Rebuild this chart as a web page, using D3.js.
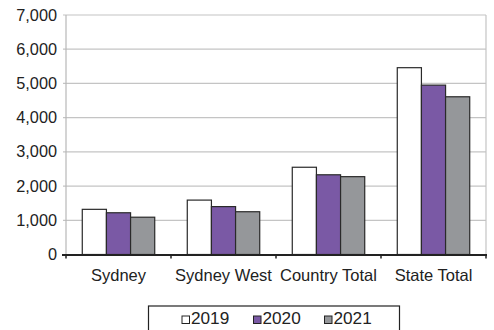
<!DOCTYPE html>
<html>
<head>
<meta charset="utf-8">
<script src="https://cdn.jsdelivr.net/npm/d3@7"></script>
<style>
  html, body { margin: 0; padding: 0; background: #fff; }
  svg { display: block; font-family: "Liberation Sans", Arial, sans-serif; }
</style>
</head>
<body>
<svg id="chart" width="494" height="330"></svg>
<script>
const categories = ["Sydney", "Sydney West", "Country Total", "State Total"];
const seriesNames = ["2019", "2020", "2021"];
const values2019 = [1320, 1590, 2550, 5460];
const values2020 = [1220, 1400, 2330, 4950];
const values2021 = [1090, 1250, 2275, 4610];
const yTicks = [0, 1000, 2000, 3000, 4000, 5000, 6000, 7000];
const colors = ["#ffffff", "#7a59a5", "#95979a"];

(function () {
const seriesValues = [values2019, values2020, values2021];
const data = categories.map((c, i) => ({ cat: c, vals: seriesValues.map(s => s[i]) }));

const svg = d3.select("#chart");
const pl = 66, pr = 486, pt = 15, pb = 254.5;

const x = d3.scaleBand().domain(categories).range([pl, pr]).paddingInner(0.31).paddingOuter(0.155);
const xs = d3.scaleBand().domain(seriesNames).range([0, x.bandwidth()]);
const y = d3.scaleLinear().domain([0, 7000]).range([pb, pt]);

// gridlines
svg.append("g").selectAll("line").data(yTicks.filter(d => d > 0)).join("line")
  .attr("x1", pl - 3).attr("x2", pr)
  .attr("y1", d => y(d)).attr("y2", d => y(d))
  .attr("stroke", "#c4c4c4").attr("stroke-width", 1.2);

// left axis line
svg.append("line").attr("x1", pl).attr("x2", pl).attr("y1", pt).attr("y2", pb)
  .attr("stroke", "#b8b8b8").attr("stroke-width", 1.2);
// right border
svg.append("line").attr("x1", pr).attr("x2", pr).attr("y1", pt).attr("y2", pb)
  .attr("stroke", "#c4c4c4").attr("stroke-width", 1.2);

// y labels
svg.append("g").selectAll("text").data(yTicks).join("text")
  .attr("x", 57).attr("y", d => y(d) + 5.5)
  .attr("text-anchor", "end").attr("font-size", 16.3).attr("fill", "#222")
  .text(d => d3.format(",")(d));

// bars
const groups = svg.append("g").selectAll("g").data(data).join("g")
  .attr("transform", d => `translate(${x(d.cat)},0)`);
groups.selectAll("rect").data(d => d.vals.map((v, i) => ({ v, s: seriesNames[i], i }))).join("rect")
  .attr("x", d => xs(d.s)).attr("width", xs.bandwidth())
  .attr("y", d => y(d.v)).attr("height", d => y(0) - y(d.v))
  .attr("fill", d => colors[d.i]).attr("stroke", "#2a2a2a").attr("stroke-width", 1.2);

// x axis
svg.append("line").attr("x1", 62).attr("x2", pr + 1).attr("y1", y(0) + 0.5).attr("y2", y(0) + 0.5)
  .attr("stroke", "#222").attr("stroke-width", 2);
const tickPos = categories.map(c => x(c) - x.step() * x.paddingInner() / 2).concat([pr]);
svg.append("g").selectAll("line").data(tickPos).join("line")
  .attr("x1", d => d).attr("x2", d => d).attr("y1", y(0)).attr("y2", y(0) + 4)
  .attr("stroke", "#222").attr("stroke-width", 1.5);

svg.append("g").selectAll("text").data(categories).join("text")
  .attr("x", d => x(d) + x.bandwidth() / 2).attr("y", 281)
  .attr("text-anchor", "middle").attr("font-size", 16.5).attr("fill", "#222")
  .text(d => d);

// legend
const lg = svg.append("g");
lg.append("rect").attr("x", 148.5).attr("y", 306).attr("width", 251).attr("height", 30)
  .attr("fill", "#fff").attr("stroke", "#222").attr("stroke-width", 1.2);
const legendX = [182, 253.5, 324.5];
seriesNames.forEach((s, i) => {
  lg.append("rect").attr("x", legendX[i]).attr("y", 316).attr("width", 7.5).attr("height", 7.5)
    .attr("fill", colors[i]).attr("stroke", "#222").attr("stroke-width", 1);
  lg.append("text").attr("x", legendX[i] + 9).attr("y", 324).attr("font-size", 17.2).attr("fill", "#222").text(s);
});
})();
</script>
</body>
</html>
